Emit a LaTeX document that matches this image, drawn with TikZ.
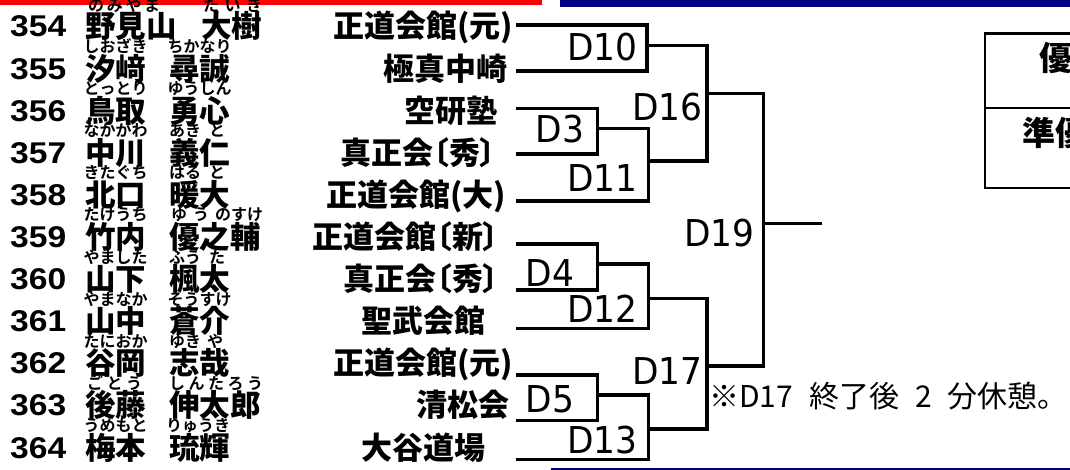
\documentclass[tikz,border=0pt]{standalone}
\usepackage{fontspec}
\newfontfamily\jpN{Noto Sans CJK JP Black}
\newfontfamily\jpC[RawFeature=+palt]{Noto Sans CJK JP Black}
\newfontfamily\jpF{Noto Sans CJK JP Bold}
\newfontfamily\jpR{Noto Sans CJK JP}
\newfontfamily\numF[FakeStretch=1.12]{Liberation Sans}
\newfontfamily\dF[FakeStretch=0.93]{DejaVu Sans}
\definecolor{navyc}{RGB}{0,0,128}
\begin{document}
\begin{tikzpicture}[x=1pt,y=-1pt,
  numtxt/.style={anchor=base west,inner sep=0,font=\numF\bfseries\fontsize{30}{30}\selectfont},
  nm/.style={anchor=base west,inner sep=0,font=\jpN\fontsize{30.5}{30.5}\selectfont},
  club/.style={anchor=base east,inner sep=0,font=\jpC\fontsize{31}{31}\selectfont},
  furi/.style={anchor=base west,inner sep=0,font=\jpF\fontsize{16}{16}\selectfont},
  dlab/.style={inner sep=0,font=\dF\fontsize{37}{37}\selectfont},
  br/.style={line width=3.2pt},
  titletxt/.style={inner sep=0,font=\jpN\fontsize{33}{33}\selectfont}]
\useasboundingbox (0,0) rectangle (1070,470);
\clip (0,0) rectangle (1070,470);
\fill[white] (0,0) rectangle (1070,470);

% bars
\fill[red] (0,0) rectangle (542,5.5);
\fill[navyc] (560,0) rectangle (1070,7.3);
\draw[navyc,line width=1.5pt] (551,469) -- (1070,469);

% numbers
\node[numtxt] (n354) at (10,37.0) {354};
\node[numtxt] (n355) at (10,79.1) {355};
\node[numtxt] (n356) at (10,121.2) {356};
\node[numtxt] (n357) at (10,163.3) {357};
\node[numtxt] (n358) at (10,205.4) {358};
\node[numtxt] (n359) at (10,247.5) {359};
\node[numtxt] (n360) at (10,289.6) {360};
\node[numtxt] (n361) at (10,331.7) {361};
\node[numtxt] (n362) at (10,373.8) {362};
\node[numtxt] (n363) at (10,415.9) {363};
\node[numtxt] (n364) at (10,458.0) {364};

% surnames
\node[nm] (s354) at (85,38.0) {野見山};
\node[nm] (s355) at (85,80.1) {汐﨑};
\node[nm] (s356) at (85,122.2) {鳥取};
\node[nm] (s357) at (85,164.3) {中川};
\node[nm] (s358) at (85,206.4) {北口};
\node[nm] (s359) at (85,248.5) {竹内};
\node[nm] (s360) at (85,290.6) {山下};
\node[nm] (s361) at (85,332.7) {山中};
\node[nm] (s362) at (85,374.8) {谷岡};
\node[nm] (s363) at (85,416.9) {後藤};
\node[nm] (s364) at (85,459.0) {梅本};

% given names
\node[nm] (g354) at (201,38.0) {大樹};
\node[nm] (g355) at (169,80.1) {尋誠};
\node[nm] (g356) at (169,122.2) {勇心};
\node[nm] (g357) at (169,164.3) {義仁};
\node[nm] (g358) at (169,206.4) {暖大};
\node[nm] (g359) at (169,248.5) {優之輔};
\node[nm] (g360) at (169,290.6) {楓太};
\node[nm] (g361) at (169,332.7) {蒼介};
\node[nm] (g362) at (169,374.8) {志哉};
\node[nm] (g363) at (169,416.9) {伸太郎};
\node[nm] (g364) at (169,459.0) {琉輝};

% furigana
\node[furi] (fs354) at (88,11.5) {\makebox[72pt]{の\hfill み\hfill や\hfill ま}};
\node[furi] (fg354) at (203,11.5) {\makebox[59pt]{た\hfill い\hfill き}};
\node[furi] (fs355) at (85,52.6) {\makebox[61pt]{し\hfill お\hfill ざ\hfill き}};
\node[furi] (fg355) at (169,52.6) {\makebox[61pt]{ち\hfill か\hfill な\hfill り}};
\node[furi] (fs356) at (85,94.7) {\makebox[61pt]{と\hfill っ\hfill と\hfill り}};
\node[furi] (fg356) at (169,94.7) {\makebox[61pt]{ゆ\hfill う\hfill し\hfill ん}};
\node[furi] (fs357) at (85,136.8) {\makebox[61pt]{な\hfill か\hfill が\hfill わ}};
\node[furi] (fg357) at (169,136.8) {\makebox[56pt]{あき\hfill と}};
\node[furi] (fs358) at (85,178.9) {\makebox[61pt]{き\hfill た\hfill ぐ\hfill ち}};
\node[furi] (fg358) at (169,178.9) {\makebox[56pt]{はる\hfill と}};
\node[furi] (fs359) at (85,221.0) {\makebox[61pt]{た\hfill け\hfill う\hfill ち}};
\node[furi] (fg359) at (171,221.0) {\makebox[92pt]{ゆ\hfill う\hfill のすけ}};
\node[furi] (fs360) at (85,263.1) {\makebox[61pt]{や\hfill ま\hfill し\hfill た}};
\node[furi] (fg360) at (169,263.1) {\makebox[56pt]{ふう\hfill た}};
\node[furi] (fs361) at (85,305.2) {\makebox[61pt]{や\hfill ま\hfill な\hfill か}};
\node[furi] (fg361) at (169,305.2) {\makebox[61pt]{そ\hfill う\hfill す\hfill け}};
\node[furi] (fs362) at (85,347.3) {\makebox[61pt]{た\hfill に\hfill お\hfill か}};
\node[furi] (fg362) at (169,347.3) {\makebox[54pt]{ゆき\hfill や}};
\node[furi] (fs363) at (87,389.4) {\makebox[55pt]{ご\hfill と\hfill う}};
\node[furi] (fg363) at (169,389.4) {\makebox[94pt]{し\hfill ん\hfill た\hfill ろ\hfill う}};
\node[furi] (fs364) at (85,431.5) {\makebox[61pt]{う\hfill め\hfill も\hfill と}};
\node[furi] (fg364) at (169,431.5) {\makebox[58pt]{りゅう\hfill き}};

% clubs
\node[club] (c354) at (513,38.0) {正道会館(元)};
\node[club] (c355) at (508,80.1) {極真中崎};
\node[club] (c356) at (498,122.2) {空研塾};
\node[club] (c357) at (496,164.3) {真正会〔秀〕};
\node[club] (c358) at (506,206.4) {正道会館(大)};
\node[club] (c359) at (499,248.5) {正道会館〔新〕};
\node[club] (c360) at (499,290.6) {真正会〔秀〕};
\node[club] (c361) at (486,332.7) {聖武会館};
\node[club] (c362) at (513,374.8) {正道会館(元)};
\node[club] (c363) at (510,416.9) {清松会};
\node[club] (c364) at (486,459.0) {大谷道場};

% bracket coordinates
\coordinate (r1) at (516,25);
\coordinate (r2) at (516,71);
\coordinate (r3) at (516,108.3);
\coordinate (r4) at (516,154);
\coordinate (r5) at (516,201);
\coordinate (r6) at (516,244);
\coordinate (r7) at (516,290);
\coordinate (r8) at (516,328.3);
\coordinate (r9) at (516,375);
\coordinate (r10) at (516,420.7);
\coordinate (r11) at (516,459.3);
\coordinate (m10) at (647,45.7);
\coordinate (m3) at (597.4,128.3);
\coordinate (m11) at (648.3,161);
\coordinate (m16) at (707,93.3);
\coordinate (m4) at (597.4,264);
\coordinate (m12) at (648.3,298.3);
\coordinate (m5) at (597.4,395);
\coordinate (m13) at (648.3,429);
\coordinate (m17) at (707,366);
\coordinate (m19) at (763.5,223.3);
\coordinate (win) at (821.7,223.3);

\draw[br] (r1) -| (m10) |- (r2);
\draw[br] (r3) -| (m3) |- (r4);
\draw[br] (m3) -| (m11) |- (r5);
\draw[br] (m10) -| (m16) |- (m11);
\draw[br] (r6) -| (m4) |- (r7);
\draw[br] (m4) -| (m12) |- (r8);
\draw[br] (r9) -| (m5) |- (r10);
\draw[br] (m5) -| (m13) |- (r11);
\draw[br] (m12) -| (m17) |- (m13);
\draw[br] (m16) -| (m19) |- (m17);
\draw[br] (m19) -- (win);

% match labels
\node[dlab] (lD10) at (602.5,47) {D10};
\node[dlab] (lD16) at (667.5,107.5) {D16};
\node[dlab] (lD3) at (560,129) {D3};
\node[dlab] (lD11) at (602.5,178.5) {D11};
\node[dlab] (lD19) at (719.5,233.5) {D19};
\node[dlab] (lD4) at (550,273.5) {D4};
\node[dlab] (lD12) at (602.5,309) {D12};
\node[dlab] (lD17) at (667.5,371.5) {D17};
\node[dlab] (lD5) at (550,399.5) {D5};
\node[dlab] (lD13) at (602.5,440) {D13};

% note
\node[anchor=base west,inner sep=0,font=\jpR\fontsize{30}{30}\selectfont] (note) at (709,407.5)
  {※D17\hspace{16pt}終了後\hspace{16pt}2\hspace{16pt}分休憩。};

% result box
\draw[line width=2.7pt] (985,33.3) rectangle (1160,188);
\draw[line width=2.7pt] (985,108) -- (1160,108);
\node[titletxt] (win1) at (1072,58.5) {優勝};
\node[titletxt] (win2) at (1072,132.5) {準優勝};
\end{tikzpicture}
\end{document}
